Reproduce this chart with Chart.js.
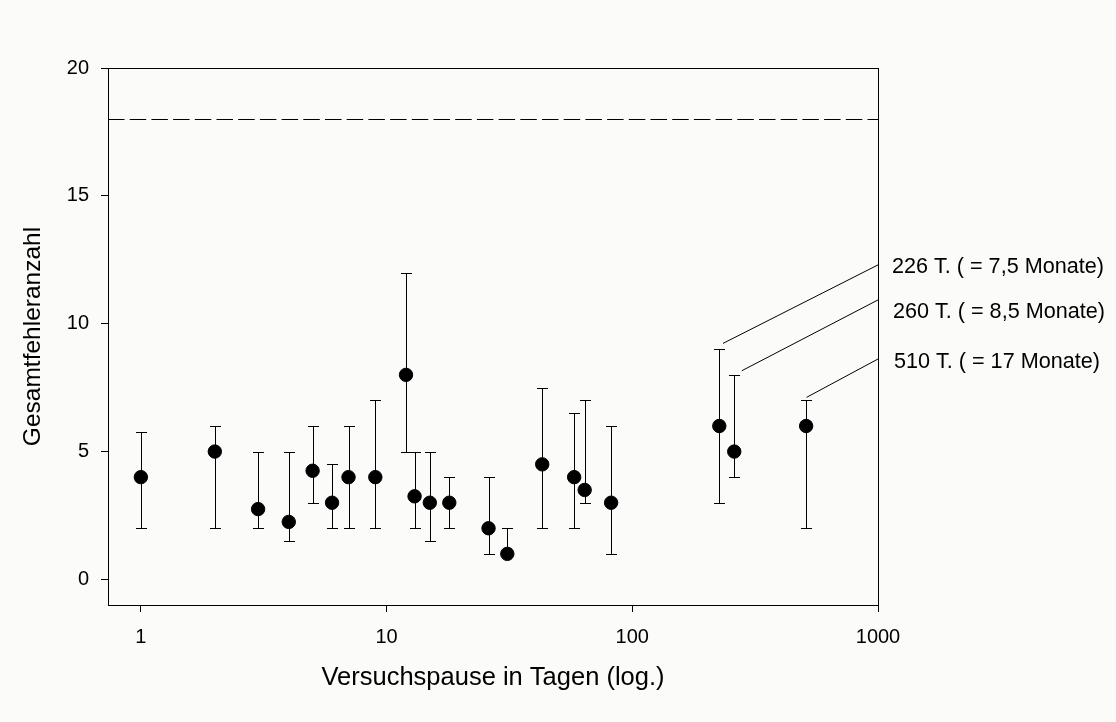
<!DOCTYPE html>
<html>
<head>
<meta charset="utf-8">
<script src="https://cdn.jsdelivr.net/npm/chart.js@4.4.1/dist/chart.umd.min.js"></script>
<style>
  html, body { margin:0; padding:0; background:#fbfbf9; }
  #wrap { width:1116px; height:722px; }
</style>
</head>
<body>
<div id="wrap"><canvas id="chart" width="1116" height="722"></canvas></div>
<script>
// Versuchspause (Tage) vs. Gesamtfehleranzahl
const days  = [1, 2, 3, 4, 5, 6, 7, 9, 12, 13, 15, 18, 26, 31, 43, 58, 64, 82, 226, 260, 510];
const mean  = [4, 5, 2.75, 2.25, 4.25, 3, 4, 4, 8, 3.25, 3, 3, 2, 1, 4.5, 4, 3.5, 3, 6, 5, 6];
const upper = [5.75, 6, 5, 5, 6, 4.5, 6, 7, 12, 5, 5, 4, 4, 2, 7.5, 6.5, 7, 6, 9, 8, 7];
const lower = [2, 2, 2, 1.5, 3, 2, 2, 2, 5, 2, 1.5, 2, 1, 1, 2, 2, 3, 1, 3, 4, 2];

const xTicks = [1, 10, 100, 1000];
const yTicks = [0, 5, 10, 15, 20];
const refLine = 18;

// annotations: leader line start (near point) / end (at right border), label
const noteText = ['226 T. ( = 7,5 Monate)', '260 T. ( = 8,5 Monate)', '510 T. ( = 17 Monate)'];
const noteX0 = [234, 279, 512];
const noteY0 = [9.23, 8.16, 7.12];
const noteX1 = [1000, 1000, 1000];
const noteY1 = [12.3, 10.93, 8.62];
const noteLabelY = [12.22, 10.45, 8.5];

const FONT = "'Liberation Sans', Arial, sans-serif";

const points = days.map((d, i) => ({ x: d, y: mean[i] }));

const decor = {
  id: 'decor',
  beforeDatasetsDraw(chart){
    const { ctx, chartArea: a, scales: { x, y } } = chart;
    ctx.save();
    // dashed reference line
    ctx.strokeStyle = '#000';
    ctx.lineWidth = 1;
    ctx.setLineDash([16.5, 5.2]);
    const ry = Math.round(y.getPixelForValue(refLine)) + 0.5;
    ctx.beginPath(); ctx.moveTo(a.left, ry); ctx.lineTo(a.right, ry); ctx.stroke();
    ctx.setLineDash([]);
    // error bars
    days.forEach((d, i) => {
      const px = Math.round(x.getPixelForValue(d)) + 0.5;
      const pt = Math.round(y.getPixelForValue(upper[i])) + 0.5;
      const pb = Math.round(y.getPixelForValue(lower[i])) + 0.5;
      ctx.beginPath();
      ctx.moveTo(px, pt); ctx.lineTo(px, pb);
      ctx.moveTo(px - 5.5, pt); ctx.lineTo(px + 5.5, pt);
      ctx.moveTo(px - 5.5, pb); ctx.lineTo(px + 5.5, pb);
      ctx.stroke();
    });
    ctx.restore();
  },
  afterDraw(chart){
    const { ctx, chartArea: a, scales: { x, y } } = chart;
    ctx.save();
    // frame
    ctx.strokeStyle = '#000';
    ctx.lineWidth = 1;
    ctx.strokeRect(Math.round(a.left) + 0.5, Math.round(a.top) + 0.5,
                   Math.round(a.right - a.left), Math.round(a.bottom - a.top));
    // leader lines + labels
    ctx.fillStyle = '#000';
    ctx.font = '21.6px ' + FONT;
    ctx.textAlign = 'left';
    ctx.textBaseline = 'middle';
    noteText.forEach((t, i) => {
      ctx.beginPath();
      ctx.moveTo(x.getPixelForValue(noteX0[i]), y.getPixelForValue(noteY0[i]));
      ctx.lineTo(x.getPixelForValue(noteX1[i]), y.getPixelForValue(noteY1[i]));
      ctx.stroke();
      ctx.fillText(t, a.right + 14 + i, y.getPixelForValue(noteLabelY[i]));
    });
    ctx.restore();
  }
};

new Chart(document.getElementById('chart'), {
  type: 'scatter',
  data: {
    datasets: [{
      data: points,
      backgroundColor: '#000',
      borderColor: '#000',
      pointRadius: 6.7,
      pointHoverRadius: 6.7
    }]
  },
  options: {
    responsive: false,
    animation: false,
    devicePixelRatio: 1,
    layout: { padding: { left: 0, top: 68, right: 238, bottom: 0 } },
    plugins: { legend: { display: false }, tooltip: { enabled: false } },
    scales: {
      x: {
        type: 'logarithmic',
        bounds: 'data',
        min: 0.735, max: 1000,
        afterBuildTicks: s => { s.ticks = xTicks.map(v => ({ value: v })); },
        afterFit: s => { s.height = 117; },
        ticks: {
          color: '#000', font: { family: FONT, size: 20 }, padding: 13,
          maxRotation: 0, autoSkip: false,
          callback: v => String(v)
        },
        grid: { drawOnChartArea: false, drawTicks: true, tickLength: 7, color: '#000' },
        border: { display: true, color: '#000' },
        title: {
          display: true, text: 'Versuchspause in Tagen (log.)', color: '#000',
          font: { family: FONT, size: 25.5 }, padding: { top: 0, bottom: 29 }
        }
      },
      y: {
        min: -1, max: 20,
        afterBuildTicks: s => { s.ticks = yTicks.map(v => ({ value: v })); },
        afterFit: s => { s.width = 108; },
        ticks: { color: '#000', font: { family: FONT, size: 20 }, padding: 12 },
        grid: { drawOnChartArea: false, drawTicks: true, tickLength: 7, color: '#000' },
        border: { display: true, color: '#000' },
        title: {
          display: true, text: 'Gesamtfehleranzahl', color: '#000',
          font: { family: FONT, size: 24.5 }, padding: { top: 19, bottom: 0 }
        }
      }
    }
  },
  plugins: [decor]
});
</script>
</body>
</html>
